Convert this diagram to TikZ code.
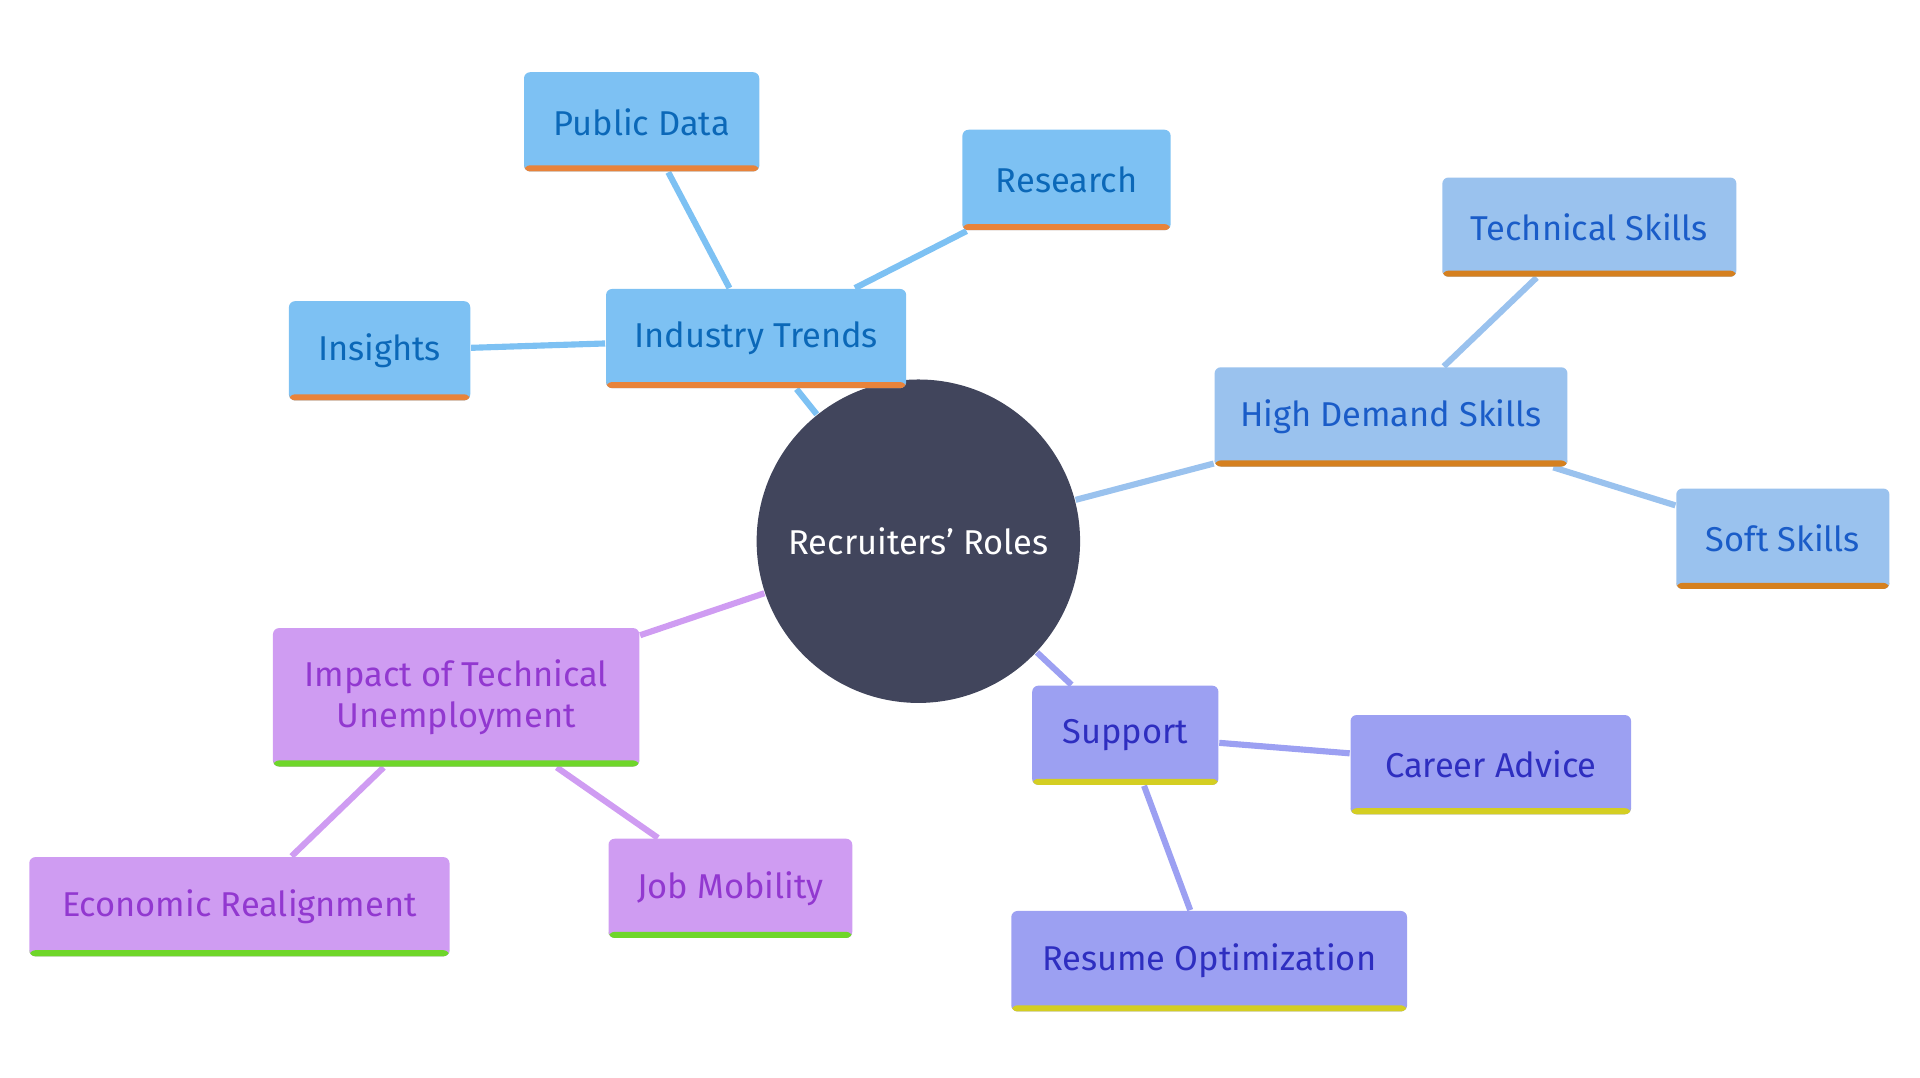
\documentclass[tikz,border=0pt]{standalone}
\usepackage{fontspec}
\setmainfont{Fira Sans}
\usetikzlibrary{backgrounds}
\definecolor{trendfill}{HTML}{7DC1F3}
\definecolor{trendtext}{HTML}{0B68B8}
\definecolor{trendbar}{HTML}{E8833A}
\definecolor{skillfill}{HTML}{9AC2EE}
\definecolor{skilltext}{HTML}{1A5CC8}
\definecolor{skillbar}{HTML}{D5801F}
\definecolor{impactfill}{HTML}{CF9CF2}
\definecolor{impacttext}{HTML}{9238D0}
\definecolor{impactbar}{HTML}{6FD62A}
\definecolor{supportfill}{HTML}{9CA0F2}
\definecolor{supporttext}{HTML}{2E2EC0}
\definecolor{supportbar}{HTML}{D4CE22}
\definecolor{rootfill}{HTML}{41455C}
\tikzset{
  box/.style n args={3}{draw=none, fill=#1, text=#2, rounded corners=0.05cm,
    inner sep=0pt, align=center, font=\fontsize{8}{9.5}\selectfont,
    path picture={\fill[#3] (path picture bounding box.south west) rectangle
      ([yshift=0.05cm]path picture bounding box.south east);}},
  trend/.style={box={trendfill}{trendtext}{trendbar}},
  skill/.style={box={skillfill}{skilltext}{skillbar}},
  impact/.style={box={impactfill}{impacttext}{impactbar}},
  support/.style={box={supportfill}{supporttext}{supportbar}},
  link/.style={line width=0.05cm, draw=#1}
}
\begin{document}
\begin{tikzpicture}[x=0.01cm,y=-0.01cm]
\useasboundingbox (0,0) rectangle (1568,880);

\node[circle, fill=rootfill, text=white, minimum size=2.64cm, inner sep=0pt,
  font=\fontsize{8}{9.5}\selectfont] (root) at (750,442) {Recruiters' Roles};

% Industry Trends
\node[trend, minimum width=2.45cm, minimum height=0.81cm] (trends) at (617.5,276.5) {Industry Trends};
\node[trend, minimum width=1.92cm, minimum height=0.81cm] (public) at (524,99.5) {Public Data};
\node[trend, minimum width=1.70cm, minimum height=0.82cm] (research) at (871,147) {Research};
\node[trend, minimum width=1.48cm, minimum height=0.81cm] (insights) at (310,286.5) {Insights};

% High Demand Skills
\node[skill, minimum width=2.88cm, minimum height=0.81cm] (skills) at (1136,340.5) {High Demand Skills};
\node[skill, minimum width=2.40cm, minimum height=0.81cm] (technical) at (1298,185.5) {Technical Skills};
\node[skill, minimum width=1.74cm, minimum height=0.82cm] (soft) at (1456,440) {Soft Skills};

% Impact
\node[impact, minimum width=2.99cm, minimum height=1.13cm] (impact) at (372.5,569.5) {Impact of Technical\\Unemployment};
\node[impact, minimum width=3.43cm, minimum height=0.81cm] (economic) at (195.5,740.5) {Economic Realignment};
\node[impact, minimum width=1.99cm, minimum height=0.81cm] (mobility) at (596.5,725.5) {Job Mobility};

% Support
\node[support, minimum width=1.52cm, minimum height=0.81cm] (support) at (919,600.5) {Support};
\node[support, minimum width=2.29cm, minimum height=0.81cm] (career) at (1217.5,624.5) {Career Advice};
\node[support, minimum width=3.23cm, minimum height=0.82cm] (resume) at (987.5,785) {Resume Optimization};

\begin{scope}[on background layer]
\draw[link=trendfill] (root) -- (trends);
\draw[link=trendfill] (trends) -- (public);
\draw[link=trendfill] (trends) -- (research);
\draw[link=trendfill] (trends) -- (insights);
\draw[link=skillfill] (root) -- (skills);
\draw[link=skillfill] (skills) -- (technical);
\draw[link=skillfill] (skills) -- (soft);
\draw[link=impactfill] (root) -- (impact);
\draw[link=impactfill] (impact) -- (economic);
\draw[link=impactfill] (impact) -- (mobility);
\draw[link=supportfill] (root) -- (support);
\draw[link=supportfill] (support) -- (career);
\draw[link=supportfill] (support) -- (resume);
\end{scope}
\end{tikzpicture}
\end{document}
